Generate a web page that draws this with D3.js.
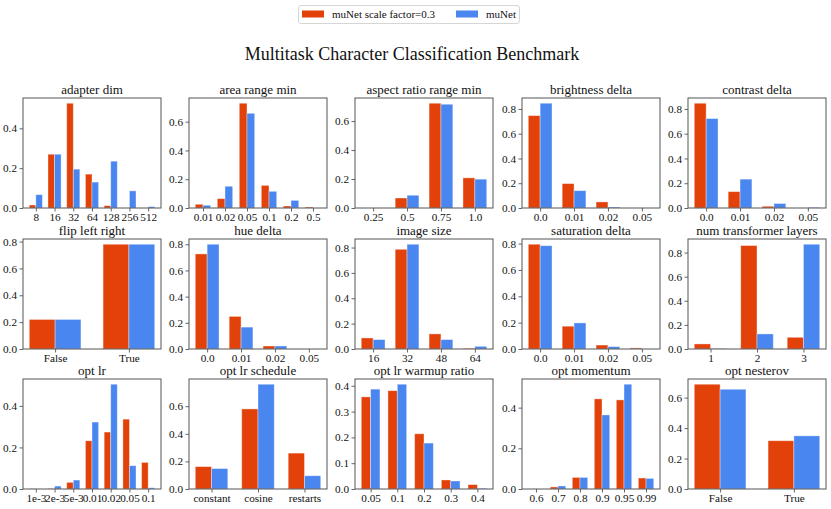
<!DOCTYPE html>
<html>
<head>
<meta charset="utf-8">
<script src="https://cdn.jsdelivr.net/npm/d3@7"></script>
<style>
  html, body { margin: 0; padding: 0; background: #fff; }
  svg text { font-family: "Liberation Serif", "DejaVu Serif", serif; fill: #111; }
</style>
</head>
<body>
<svg id="chart" width="831" height="509"></svg>
<script>
// ---------- DATA ----------
const seriesNames = ["muNet scale factor=0.3", "muNet"];
const mainTitle = "Multitask Character Classification Benchmark";

const titles = ["adapter dim", "area range min", "aspect ratio range min", "brightness delta", "contrast delta",
  "flip left right", "hue delta", "image size", "saturation delta", "num transformer layers",
  "opt lr", "opt lr schedule", "opt lr warmup ratio", "opt momentum", "opt nesterov"];

const categories = [
  ["8", "16", "32", "64", "128", "256", "512"],
  ["0.01", "0.02", "0.05", "0.1", "0.2", "0.5"],
  ["0.25", "0.5", "0.75", "1.0"],
  ["0.0", "0.01", "0.02", "0.05"],
  ["0.0", "0.01", "0.02", "0.05"],
  ["False", "True"],
  ["0.0", "0.01", "0.02", "0.05"],
  ["16", "32", "48", "64"],
  ["0.0", "0.01", "0.02", "0.05"],
  ["1", "2", "3"],
  ["1e-3", "2e-3", "5e-3", "0.01", "0.02", "0.05", "0.1"],
  ["constant", "cosine", "restarts"],
  ["0.05", "0.1", "0.2", "0.3", "0.4"],
  ["0.6", "0.7", "0.8", "0.9", "0.95", "0.99"],
  ["False", "True"]
];

const scaledValues = [
  [0.015, 0.27, 0.526, 0.17, 0.012, 0, 0],
  [0.026, 0.065, 0.728, 0.157, 0.014, 0.007],
  [0, 0.069, 0.723, 0.208],
  [0.746, 0.197, 0.049, 0],
  [0.846, 0.132, 0.014, 0],
  [0.22, 0.78],
  [0.726, 0.249, 0.023, 0],
  [0.087, 0.786, 0.119, 0.005],
  [0.795, 0.173, 0.03, 0.008],
  [0.042, 0.858, 0.097],
  [0.001, 0.002, 0.032, 0.232, 0.274, 0.336, 0.128],
  [0.162, 0.58, 0.26],
  [0.357, 0.381, 0.214, 0.035, 0.017],
  [0, 0.01, 0.057, 0.443, 0.438, 0.054],
  [0.688, 0.317]
];

const munetValues = [
  [0.067, 0.27, 0.195, 0.13, 0.235, 0.086, 0.007],
  [0.019, 0.151, 0.658, 0.116, 0.053, 0],
  [0, 0.088, 0.716, 0.199],
  [0.846, 0.14, 0.008, 0],
  [0.722, 0.233, 0.036, 0.005],
  [0.22, 0.78],
  [0.8, 0.167, 0.023, 0],
  [0.074, 0.826, 0.074, 0.021],
  [0.784, 0.198, 0.018, 0],
  [0.003, 0.125, 0.869],
  [0, 0.014, 0.043, 0.322, 0.504, 0.112, 0.006],
  [0.148, 0.759, 0.096],
  [0.387, 0.406, 0.178, 0.031, 0.003],
  [0, 0.015, 0.057, 0.364, 0.515, 0.052],
  [0.655, 0.349]
];

const yTicks = [
  [0, 0.2, 0.4],
  [0, 0.2, 0.4, 0.6],
  [0, 0.2, 0.4, 0.6],
  [0, 0.2, 0.4, 0.6, 0.8],
  [0, 0.2, 0.4, 0.6, 0.8],
  [0, 0.2, 0.4, 0.6, 0.8],
  [0, 0.2, 0.4, 0.6, 0.8],
  [0, 0.2, 0.4, 0.6, 0.8],
  [0, 0.2, 0.4, 0.6, 0.8],
  [0, 0.2, 0.4, 0.6, 0.8],
  [0, 0.2, 0.4],
  [0, 0.2, 0.4, 0.6],
  [0, 0.1, 0.2, 0.3, 0.4],
  [0, 0.2, 0.4],
  [0, 0.2, 0.4, 0.6]
];

// ---------- LAYOUT / STYLE ----------
const colors = ["#e2420a", "#4a86f0"];
const colLeft = [23, 189, 355, 522, 688];
const rowTop = [98, 239, 379];
const panelW = 138;
const panelH = 110;
const barW = 0.35;
const spine = "#555";
const tickFont = 11.2;

const svg = d3.select("#chart");

// Legend
const leg = svg.append("g");
leg.append("rect").attr("x", 298.5).attr("y", 5.5).attr("width", 221).attr("height", 18)
  .attr("rx", 2.5).attr("fill", "#fff").attr("stroke", "#d6d6d6").attr("stroke-width", 1);
const legX = [302, 456];
seriesNames.forEach((name, i) => {
  leg.append("rect").attr("x", legX[i]).attr("y", 10.5).attr("width", 22).attr("height", 7)
    .attr("fill", colors[i]);
  leg.append("text").attr("x", legX[i] + 30).attr("y", 17.5)
    .attr("font-size", 11).text(name);
});

// Main title
svg.append("text").attr("x", 412).attr("y", 60).attr("text-anchor", "middle")
  .attr("font-size", 18).text(mainTitle);

titles.forEach((title, p) => {
  const r = Math.floor(p / 5), c = p % 5;
  const left = colLeft[c], top = rowTop[r];
  const cats = categories[p];
  const n = cats.length;
  const lo = -barW, hi = n - 1 + barW;
  const pad = (hi - lo) * 0.05;
  const x = d3.scaleLinear().domain([lo - pad, hi + pad]).range([left, left + panelW]);
  const vmax = d3.max(scaledValues[p].concat(munetValues[p]));
  const y = d3.scaleLinear().domain([0, vmax * 1.05]).range([top + panelH, top]);

  const g = svg.append("g");

  // bars
  [scaledValues[p], munetValues[p]].forEach((vals, s) => {
    g.selectAll(null).data(vals.map((v, i) => ({ v, i })).filter(d => d.v > 0))
      .enter().append("rect")
      .attr("x", d => x(d.i - barW + s * barW))
      .attr("width", d => x(d.i + s * barW) - x(d.i - barW + s * barW))
      .attr("y", d => y(d.v))
      .attr("height", d => y(0) - y(d.v))
      .attr("fill", colors[s])
      .attr("stroke", "#fff").attr("stroke-opacity", 0.45).attr("stroke-width", 0.8);
  });

  // axes
  const xAxis = d3.axisBottom(x).tickValues(d3.range(n)).tickFormat(i => cats[i])
    .tickSize(3.5).tickPadding(1.2);
  const yAxis = d3.axisLeft(y).tickValues(yTicks[p]).tickFormat(d3.format(".1f"))
    .tickSize(3.5).tickPadding(2.5);

  const gx = g.append("g").attr("transform", `translate(0,${top + panelH})`).call(xAxis);
  const gy = g.append("g").attr("transform", `translate(${left},0)`).call(yAxis);
  [gx, gy].forEach(ax => {
    ax.attr("font-family", null).attr("font-size", null);
    ax.select(".domain").remove();
    ax.selectAll(".tick line").attr("stroke", spine).attr("stroke-width", 0.9);
    ax.selectAll(".tick text").attr("font-size", tickFont).attr("fill", "#111");
  });

  // frame
  g.append("rect").attr("x", left).attr("y", top).attr("width", panelW).attr("height", panelH)
    .attr("fill", "none").attr("stroke", spine).attr("stroke-width", 1);

  // title
  g.append("text").attr("x", left + panelW / 2).attr("y", top - 4.5)
    .attr("text-anchor", "middle").attr("font-size", 13).text(title);
});
</script>
</body>
</html>
